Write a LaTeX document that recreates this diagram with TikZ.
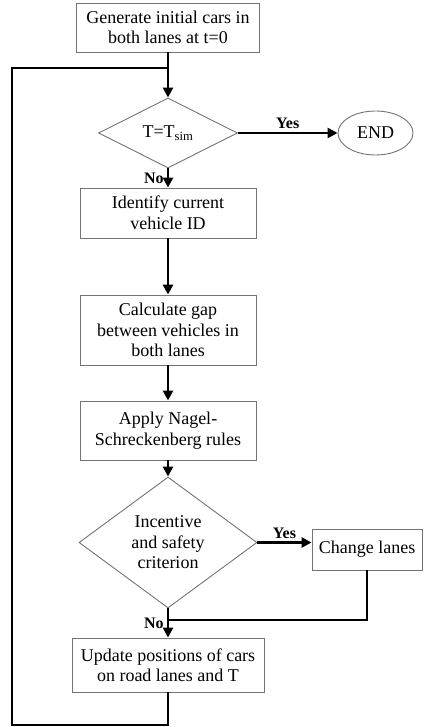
\documentclass[tikz,border=0pt]{standalone}
\usepackage{fontspec}
\setmainfont{Liberation Serif}
\usetikzlibrary{shapes.geometric,arrows.meta}

\begin{document}
\begin{tikzpicture}[x=1pt,y=-1pt,
    box/.style={draw=black!55,line width=0.9pt,align=center,inner sep=0pt,
      font=\fontsize{18}{20.5}\selectfont},
    flow/.style={line width=2.5pt},
    lbl/.style={font=\fontsize{16}{18}\selectfont\bfseries,inner sep=3pt}]
  \useasboundingbox (0,0) rectangle (425,727);
  \node[box,minimum width=183pt,minimum height=49pt] (gen) at (168,27.5)
    {Generate initial cars in\\both lanes at t=0};
  \node[box,diamond,aspect=2,minimum width=139pt,minimum height=70pt] (tsim) at (168,133)
    {T=T\textsubscript{sim}};
  \node[box,ellipse,minimum width=75pt,minimum height=44pt] (end) at (375.5,133) {END};
  \node[box,minimum width=176pt,minimum height=50pt] (id) at (168,213)
    {Identify current\\vehicle ID};
  \node[box,minimum width=176pt,minimum height=70pt] (gap) at (168,330)
    {Calculate gap\\between vehicles in\\both lanes};
  \node[box,minimum width=176pt,minimum height=59pt] (nasch) at (168,430.5)
    {Apply Nagel-\\Schreckenberg rules};
  \node[box,diamond,aspect=1.36,minimum width=178pt,minimum height=131pt] (crit) at (168,542.5)
    {Incentive\\and safety\\criterion};
  \node[box,minimum width=110pt,minimum height=41pt] (change) at (367,549.5) {Change lanes};
  \node[box,minimum width=192pt,minimum height=54pt] (upd) at (168,665)
    {Update positions of cars\\on road lanes and T};
  \coordinate (join) at (168,68);
  \coordinate (merge) at (168,620);
  \coordinate (back) at (12,725);
  % plain lines
  \draw[flow] (change.south) |- (merge);
  \draw[flow] (upd.south) |- (back) |- (join);
  \begin{scope}[->,>={Triangle[length=10pt,width=10pt]},flow]
    \draw (gen) -- (tsim);
    \draw (tsim) -- node[lbl,above]{Yes} (end);
    \draw (tsim) -- node[lbl,left]{No} (id);
    \draw (id) -- (gap);
    \draw (gap) -- (nasch);
    \draw (nasch) -- (crit);
    \draw (crit.east) -- node[lbl,above]{Yes} (crit.east -| change.west);
    \draw (crit) -- node[lbl,left]{No} (upd);
  \end{scope}
\end{tikzpicture}
\end{document}
